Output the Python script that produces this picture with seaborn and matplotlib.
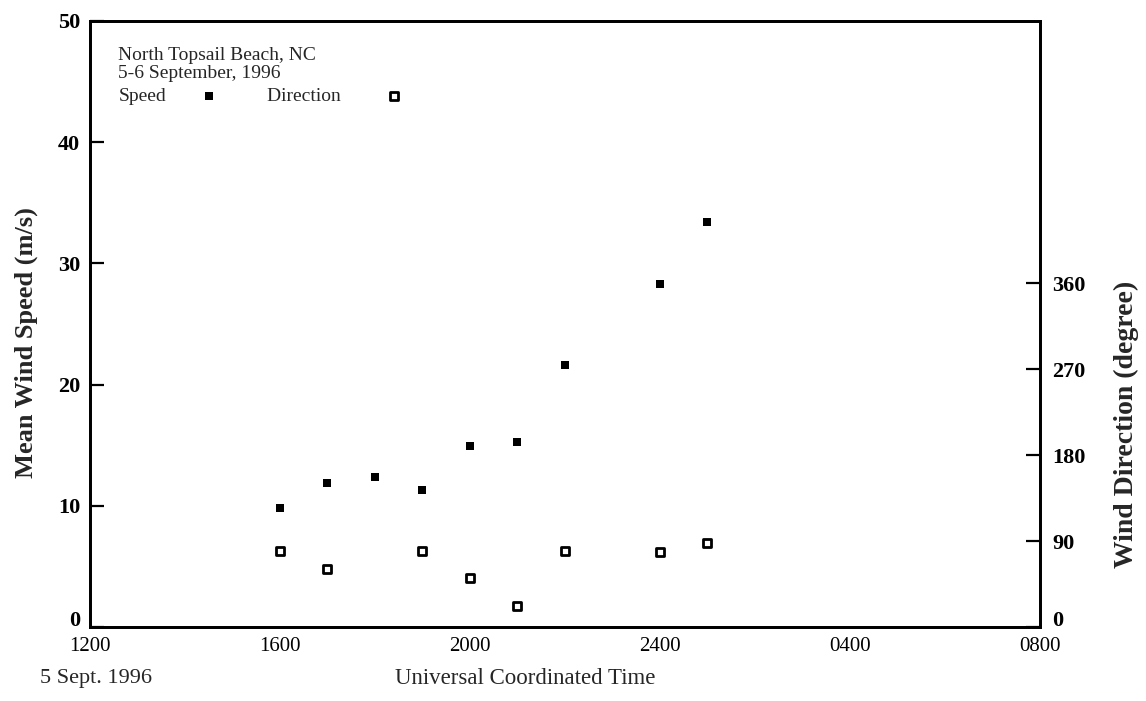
import matplotlib
matplotlib.use("Agg")
import matplotlib.pyplot as plt
import matplotlib.transforms as mtransforms
import seaborn as sns
import pandas as pd

# ---- data ----
speed_hours = [16, 17, 18, 19, 20, 21, 22, 24, 25]
speed_ms = [9.8, 11.9, 12.4, 11.3, 14.9, 15.3, 21.6, 28.3, 33.4]
dir_hours = [16, 17, 19, 20, 21, 22, 24, 25]
dir_deg = [80, 61, 80, 51, 22, 80, 79, 88]
x_tick_hours = [12, 16, 20, 24, 28, 32]
x_tick_labels = ["1200", "1600", "2000", "2400", "0400", "0800"]
x_minor_hours = [14, 18, 22, 26, 30]
left_ticks = [0, 10, 20, 30, 40, 50]
right_ticks = [0, 90, 180, 270, 360]

speed_df = pd.DataFrame({"hour": speed_hours, "speed": speed_ms})
dir_df = pd.DataFrame({"hour": dir_hours, "direction": dir_deg})

sns.set_theme(style="white")
plt.rcParams['font.family'] = ['Liberation Serif', 'DejaVu Serif']
plt.rcParams['axes.linewidth'] = 2.0

fig = plt.figure(figsize=(11.46, 7.01), dpi=100)
ax = fig.add_axes([0.0785, 0.1056, 0.829, 0.8645])
ax2 = ax.twinx()

sns.scatterplot(data=speed_df, x="hour", y="speed", ax=ax, marker="s",
                color="black", s=34, linewidth=0, label="Speed", legend=False)
sns.scatterplot(data=dir_df, x="hour", y="direction", ax=ax2, marker="s",
                facecolor="white", edgecolor="black", s=36, linewidth=2.0,
                label="Direction", legend=False)

ax.set_xlim(12, 32)
ax.set_ylim(0, 50)
ax2.set_ylim(0, 635)

ax.set_xticks(x_tick_hours)
ax.set_xticklabels(x_tick_labels)
ax.set_xticks(x_minor_hours, minor=True)
ax.set_yticks(left_ticks)
ax.set_yticklabels([str(v) for v in left_ticks], fontweight="bold")
ax2.set_yticks(right_ticks)
ax2.set_yticklabels([str(v) for v in right_ticks], fontweight="bold")

ax.tick_params(axis="x", which="both", direction="in", length=10, width=1.6,
               top=False, labelsize=15, pad=7, colors="black")
ax.tick_params(axis="y", direction="in", length=10, width=1.6, right=False,
               labelsize=16, pad=7, colors="black")
ax2.tick_params(axis="y", direction="in", length=10, width=1.6, left=False,
                labelsize=16, pad=9, colors="black")

# the "0" labels sit a little above the baseline in the reference
lift = mtransforms.ScaledTranslation(0, 8 / 100, fig.dpi_scale_trans)
for lab in (ax.get_yticklabels()[0], ax2.get_yticklabels()[0]):
    lab.set_transform(lab.get_transform() + lift)

for a in (ax, ax2):
    for sp in a.spines.values():
        sp.set_visible(True)
        sp.set_color("black")
        sp.set_linewidth(2.0)

ax.set_xlabel("Universal Coordinated Time", fontsize=16.5)
ax.xaxis.set_label_coords(0.458, -0.068)
ax.set_ylabel("Mean Wind Speed (m/s)", fontsize=19, fontweight="bold")
ax.yaxis.set_label_coords(-0.055, 0.469)
ax2.set_ylabel("Wind Direction (degree)", fontsize=20, fontweight="bold",
               rotation=90)
ax2.yaxis.set_label_coords(1.078, 0.335)

fig.text(40 / 1146, 1 - 678 / 701, "5 Sept. 1996", fontsize=16,
         ha="left", va="center")

h1 = ax.collections[0]
h2 = ax2.collections[0]
leg = ax.legend(handles=[h1, h2], labels=["Speed", "Direction  "],
                title="North Topsail Beach, NC\n5-6 September, 1996",
                loc="upper left", bbox_to_anchor=(0.03, 0.957),
                ncol=2, markerfirst=False, frameon=False,
                alignment="left", fontsize=14, title_fontsize=14,
                handletextpad=1.0, columnspacing=1.8, handlelength=2.4,
                borderaxespad=0, borderpad=0, labelspacing=0.25)
leg.get_title().set_linespacing(1.1)
leg.set_zorder(10)

fig.savefig("out.png", dpi=100)
